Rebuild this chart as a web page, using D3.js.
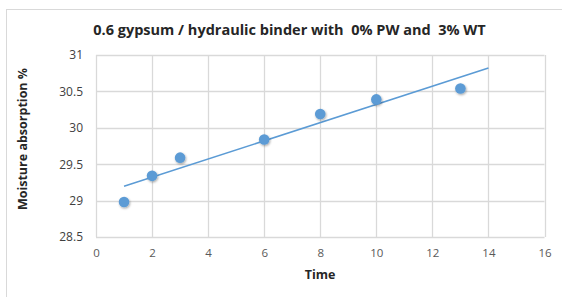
<!DOCTYPE html>
<html><head><meta charset="utf-8">
<script src="https://cdn.jsdelivr.net/npm/d3@7"></script>
<style>
html,body{margin:0;padding:0;background:#fff;}
svg text{font-family:"Open Sans","Liberation Sans",sans-serif;}
</style></head>
<body>
<svg id="c" width="562" height="297"></svg>
<script>
const times = [1, 2, 3, 6, 8, 10, 13];
const absorption = [28.98, 29.34, 29.59, 29.84, 30.19, 30.39, 30.54];
const xTicks = [0, 2, 4, 6, 8, 10, 12, 14, 16];
const yTicks = [28.5, 29, 29.5, 30, 30.5, 31];
const trendRange = [1, 14];
const titleText = "0.6 gypsum / hydraulic binder with  0% PW and  3% WT";
const xTitle = "Time";
const yTitle = "Moisture absorption %";

const svg = d3.select("#c");
svg.append("rect").attr("x", 6.5).attr("y", 9.5).attr("width", 570).attr("height", 300)
  .attr("fill", "#fff").attr("stroke", "#d9d9d9").attr("stroke-width", 1);

const x = d3.scaleLinear().domain([0, 16]).range([96, 544.5]);
const y = d3.scaleLinear().domain([28.5, 31]).range([237, 55]);

const g = svg.append("g");
g.selectAll(".vg").data(xTicks).enter().append("line")
  .attr("x1", d => Math.round(x(d)) + 0.5).attr("x2", d => Math.round(x(d)) + 0.5)
  .attr("y1", y(31)).attr("y2", y(28.5)).attr("stroke", "#d9d9d9").attr("stroke-width", 1.3);
g.selectAll(".hg").data(yTicks).enter().append("line")
  .attr("y1", d => Math.round(y(d)) + 0.5).attr("y2", d => Math.round(y(d)) + 0.5)
  .attr("x1", x(0)).attr("x2", x(16)).attr("stroke", "#d9d9d9").attr("stroke-width", 1.3);

const xAxis = d3.axisBottom(x).tickValues(xTicks).tickSize(0).tickPadding(0).tickFormat(d3.format("d"));
const xa = svg.append("g").attr("transform", "translate(0,249)").call(xAxis);
xa.select(".domain").remove();
xa.selectAll("text").attr("fill", "#595959").attr("font-size", 11.5).attr("dy", "0.71em");

const yAxis = d3.axisLeft(y).tickValues(yTicks).tickSize(0).tickPadding(0).tickFormat(d => d);
const ya = svg.append("g").attr("transform", "translate(83,0)").call(yAxis);
ya.select(".domain").remove();
ya.selectAll("text").attr("fill", "#404040").attr("font-size", 12);

const mx = d3.mean(times), my = d3.mean(absorption);
const sxy = d3.sum(times, (t, i) => (t - mx) * (absorption[i] - my));
const sxx = d3.sum(times, t => (t - mx) * (t - mx));
const slope = sxy / sxx, icpt = my - slope * mx;
svg.append("line")
  .attr("x1", x(trendRange[0])).attr("y1", y(icpt + slope * trendRange[0]))
  .attr("x2", x(trendRange[1])).attr("y2", y(icpt + slope * trendRange[1]))
  .attr("stroke", "#5b9bd5").attr("stroke-width", 1.6);

const defs = svg.append("defs");
const f = defs.append("filter").attr("id", "sh").attr("x", "-50%").attr("y", "-50%").attr("width", "200%").attr("height", "200%");
f.append("feDropShadow").attr("dx", 0.8).attr("dy", 1.2).attr("stdDeviation", 1).attr("flood-color", "#000").attr("flood-opacity", 0.35);

svg.selectAll(".pt").data(times).enter().append("circle")
  .attr("cx", d => x(d)).attr("cy", (d, i) => y(absorption[i]))
  .attr("r", 5.3).attr("fill", "#5b9bd5").attr("filter", "url(#sh)");

svg.append("text").attr("x", 289.5).attr("y", 35).attr("text-anchor", "middle")
  .attr("font-size", 14.5).attr("font-weight", "bold").attr("fill", "#262626")
  .style("white-space", "pre").attr("xml:space", "preserve").text(titleText);

svg.append("text").attr("x", 320).attr("y", 279).attr("text-anchor", "middle")
  .attr("font-size", 12.5).attr("font-weight", "bold").attr("fill", "#262626").text(xTitle);

svg.append("text").attr("transform", "translate(27,139) rotate(-90)").attr("text-anchor", "middle")
  .attr("font-size", 12.5).attr("font-weight", "bold").attr("fill", "#262626").text(yTitle);
</script>
</body></html>
